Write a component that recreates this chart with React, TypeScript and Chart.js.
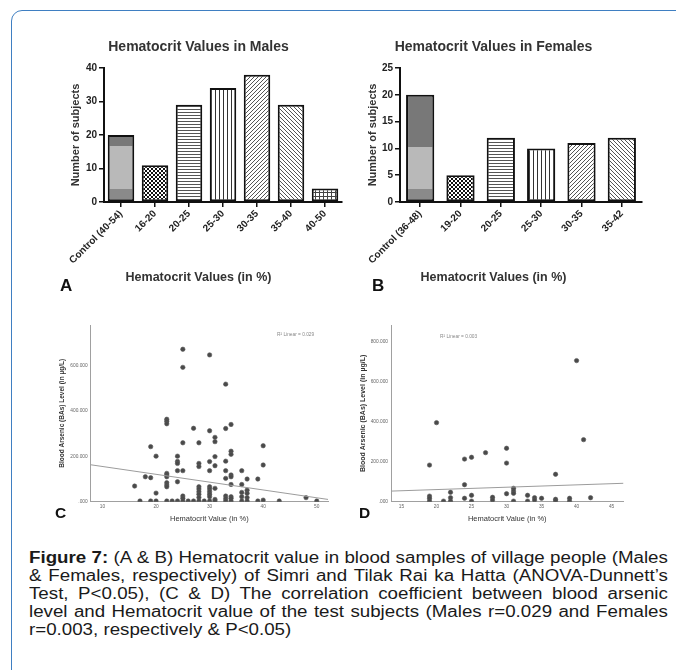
import React, { useEffect, useRef } from 'react';
import { Chart, registerables } from 'chart.js';

Chart.register(...registerables);

const FONT = '"Liberation Sans", Arial, Helvetica, sans-serif';

// ---------- Panel A: males ----------
const maleCategories = ['Control (40-54)', '16-20', '20-25', '25-30', '30-35', '35-40', '40-50'];
const maleCounts = [20, 11, 29, 34, 38, 29, 4];
const maleControlBands = [3.9, 16.6];

// ---------- Panel B: females ----------
const femaleCategories = ['Control (36-48)', '19-20', '20-25', '25-30', '30-35', '35-42'];
const femaleCounts = [20, 5, 12, 10, 11, 12];
const femaleControlBands = [2.4, 10.3];

// ---------- Panel C: males scatter ----------
const maleHct = [
  16, 17, 18, 19, 19, 19, 20, 20, 20,
  22, 22, 22, 22, 22, 22, 22, 22, 22, 22,
  23, 24, 24, 24, 24, 24, 24,
  25, 25, 25, 25, 25, 25, 25, 26, 27, 27,
  28, 28, 28, 28, 28, 28, 28, 28, 28, 29,
  30, 30, 30, 30, 30, 30, 30, 30, 30, 30,
  31, 31, 31, 31, 31, 31, 31,
  33, 33, 33, 33, 33, 33, 33, 33,
  34, 34, 34, 34, 34, 34, 34, 34, 34,
  36, 36, 36, 36, 36, 37, 37, 37, 37, 37,
  39, 39, 40, 40, 40, 43, 48, 50,
];
const maleBAs = [
  69, 3, 110, 106, 243, 3, 201, 38, 3,
  364, 355, 344, 125, 118, 110, 84, 74, 66, 3,
  3, 201, 178, 169, 137, 88, 3,
  673, 593, 260, 137, 25, 15, 3, 3, 324, 3,
  260, 169, 155, 66, 56, 44, 33, 19, 3, 3,
  648, 313, 177, 137, 66, 56, 44, 33, 22, 3,
  284, 265, 199, 159, 59, 10, 3,
  519, 323, 179, 137, 103, 25, 13, 3,
  341, 223, 209, 118, 110, 76, 22, 15, 3,
  137, 76, 41, 22, 3, 100, 51, 37, 18, 3,
  100, 3, 247, 162, 7, 3, 18, 3,
];
const maleFitHct = [7.8, 52.1];
const maleFitBAs = [163, 10];
const maleXTicks = [10, 20, 30, 40, 50];
const maleYTicks = [0, 200, 400, 600];

// ---------- Panel D: females scatter ----------
const femaleHct = [
  19, 19, 19, 19, 20, 21, 22, 22, 22,
  24, 24, 24, 25, 25, 25, 27, 28, 28,
  30, 30, 30, 31, 31, 31, 31, 33, 33,
  34, 34, 35, 37, 37, 37, 39, 39, 40, 41, 42,
];
const femaleBAs = [
  183, 28, 17, 3, 395, 3, 47, 20, 3,
  213, 85, 17, 222, 32, 3, 245, 22, 8,
  267, 193, 40, 67, 53, 42, 3, 32, 3,
  20, 8, 17, 137, 12, 3, 17, 3, 705, 310, 20,
];
const femaleFitHct = [13.5, 46.7];
const femaleFitBAs = [53, 92];
const femaleXTicks = [15, 20, 25, 30, 35, 40, 45];
const femaleYTicks = [0, 200, 400, 600, 800];

const captionLines = [
  '(A & B) Hematocrit value in blood samples of village people (Males',
  '& Females, respectively) of Simri and Tilak Rai ka Hatta (ANOVA-Dunnett\u2019s',
  'Test, P<0.05), (C & D) The correlation coefficient between blood arsenic',
  'level and Hematocrit value of the test subjects (Males r=0.029 and Females',
  'r=0.003, respectively & P<0.05)',
];

function makePattern(target: CanvasRenderingContext2D, kind: string): CanvasPattern {
  const c = document.createElement('canvas');
  const g = c.getContext('2d')!;
  const s = kind === 'hlines' ? 3 : 4;
  c.width = s;
  c.height = s;
  g.fillStyle = '#ffffff';
  g.fillRect(0, 0, s, s);
  if (kind === 'checker') {
    g.fillStyle = '#111';
    g.fillRect(0, 0, 2, 2);
    g.fillRect(2, 2, 2, 2);
  } else if (kind === 'hlines') {
    g.fillStyle = '#555';
    g.fillRect(0, 0, s, 1);
  } else if (kind === 'vlines') {
    g.fillStyle = '#333';
    g.fillRect(0, 0, 1, s);
  } else if (kind === 'slash') {
    g.fillStyle = '#555';
    for (let i = 0; i < s; i++) g.fillRect(i, s - 1 - i, 1, 1);
  } else if (kind === 'backslash') {
    g.fillStyle = '#555';
    for (let i = 0; i < s; i++) g.fillRect(i, i, 1, 1);
  } else if (kind === 'grid') {
    g.fillStyle = '#444';
    g.fillRect(0, 0, s, 1);
    g.fillRect(0, 0, 1, s);
  }
  return target.createPattern(c, 'repeat')!;
}

type BarOpts = {
  labels: string[];
  values: number[];
  title: string;
  yMax: number;
  yStep: number;
  yWidth: number;
  yTitlePad: number;
  xHeight: number;
  padRight: number;
  barPct: number;
  bands: number[];
  kinds: string[];
  ctx: CanvasRenderingContext2D;
};

function barConfig(o: BarOpts): any {
  const patterns = o.kinds.map((k) => makePattern(o.ctx, k));
  const bandColors = ['#8a8a8a', '#b9b9b9', '#787878'];
  return {
    type: 'bar',
    data: {
      labels: o.labels,
      datasets: [
        {
          data: o.values,
          backgroundColor: (c: any) => {
            const i = c.dataIndex;
            if (i === 0) {
              const chart = c.chart;
              if (!chart.chartArea || !chart.scales.y) return '#999';
              const y = chart.scales.y;
              const v = o.values[0];
              const y0 = y.getPixelForValue(0);
              const y1 = y.getPixelForValue(v);
              const gr = chart.ctx.createLinearGradient(0, y0, 0, y1);
              const f1 = o.bands[0] / v;
              const f2 = o.bands[1] / v;
              gr.addColorStop(0, bandColors[0]);
              gr.addColorStop(f1, bandColors[0]);
              gr.addColorStop(f1, bandColors[1]);
              gr.addColorStop(f2, bandColors[1]);
              gr.addColorStop(f2, bandColors[2]);
              gr.addColorStop(1, bandColors[2]);
              return gr;
            }
            return patterns[i];
          },
          borderColor: '#111',
          borderWidth: 2,
          borderSkipped: false,
          barPercentage: o.barPct,
          categoryPercentage: 1,
        },
      ],
    },
    options: {
      responsive: false,
      animation: false,
      devicePixelRatio: 1,
      layout: { padding: { top: 0, left: 0, bottom: 0, right: o.padRight } },
      plugins: {
        legend: { display: false },
        tooltip: { enabled: false },
        title: {
          display: true,
          text: o.title,
          color: '#333',
          font: { family: FONT, size: 14, weight: 'bold' },
          padding: { top: 10.6, bottom: 12.6 },
        },
        subtitle: {
          display: true,
          position: 'bottom',
          text: 'Hematocrit Values (in %)',
          color: '#333',
          font: { family: FONT, size: 12.5, weight: 'bold' },
          padding: { top: 2, bottom: 4.5 },
        },
      },
      scales: {
        x: {
          grid: { drawOnChartArea: false, offset: false, color: '#111', lineWidth: 1.5, tickLength: 5 },
          border: { color: '#111', width: 2 },
          ticks: {
            autoSkip: false,
            minRotation: 45,
            maxRotation: 45,
            padding: 1,
            color: '#222',
            font: { family: FONT, size: 10, weight: 'bold' },
          },
          afterFit: (s: any) => {
            s.height = o.xHeight;
          },
        },
        y: {
          min: 0,
          max: o.yMax,
          grid: { drawOnChartArea: false, color: '#111', lineWidth: 1.5, tickLength: 5 },
          border: { color: '#111', width: 2 },
          ticks: {
            stepSize: o.yStep,
            padding: 2,
            color: '#222',
            font: { family: FONT, size: 10, weight: 'bold' },
          },
          title: {
            display: true,
            text: 'Number of subjects',
            color: '#333',
            font: { family: FONT, size: 11, weight: 'bold' },
            padding: { top: o.yTitlePad, bottom: 0 },
          },
          afterFit: (s: any) => {
            s.width = o.yWidth;
          },
        },
      },
    },
  };
}

type ScatterOpts = {
  hct: number[];
  bas: number[];
  fitHct: number[];
  fitBAs: number[];
  xTicks: number[];
  yTicks: number[];
  xMin: number;
  xMax: number;
  yMax: number;
  yWidth: number;
  yTitlePad: number;
  yTitleSize: number;
  padRight: number;
};

function scatterConfig(o: ScatterOpts): any {
  const pts = o.hct.map((x, i) => ({ x, y: o.bas[i] }));
  const fit = o.fitHct.map((x, i) => ({ x, y: o.fitBAs[i] }));
  const tickFont = { family: FONT, size: 4.8 };
  return {
    type: 'scatter',
    data: {
      datasets: [
        {
          type: 'line',
          data: fit,
          borderColor: '#9c9c9c',
          borderWidth: 1,
          pointRadius: 0,
          fill: false,
          showLine: true,
        },
        {
          type: 'scatter',
          data: pts,
          pointRadius: 2.2,
          pointBackgroundColor: '#4a4a4a',
          pointBorderColor: '#5a5a5a',
          pointBorderWidth: 0.6,
        },
      ],
    },
    options: {
      responsive: false,
      animation: false,
      devicePixelRatio: 1,
      layout: { padding: { top: 10, left: 0, bottom: 0, right: o.padRight } },
      plugins: { legend: { display: false }, tooltip: { enabled: false } },
      scales: {
        x: {
          type: 'linear',
          min: o.xMin,
          max: o.xMax,
          grid: { display: false, drawTicks: false },
          border: { color: '#a0a0a0', width: 1 },
          ticks: { padding: 2, color: '#666', font: tickFont },
          afterBuildTicks: (s: any) => {
            s.ticks = o.xTicks.map((v) => ({ value: v }));
          },
          title: {
            display: true,
            text: 'Hematocrit Value (in %)',
            color: '#333',
            font: { family: FONT, size: 7.5 },
            padding: { top: 0, bottom: 6.5 },
          },
          afterFit: (s: any) => {
            s.height = 28.3;
          },
        },
        y: {
          type: 'linear',
          min: 0,
          max: o.yMax,
          grid: { display: false, drawTicks: false },
          border: { color: '#a0a0a0', width: 1 },
          ticks: {
            padding: 3,
            color: '#666',
            font: tickFont,
            callback: (v: any) => (Number(v) === 0 ? '.000' : Number(v).toFixed(3)),
          },
          afterBuildTicks: (s: any) => {
            s.ticks = o.yTicks.map((v) => ({ value: v }));
          },
          title: {
            display: true,
            text: 'Blood Arsenic (BAs) Level (in \u00b5g/L)',
            color: '#333',
            font: { family: FONT, size: o.yTitleSize, weight: 'bold' },
            padding: { top: o.yTitlePad, bottom: 0 },
          },
          afterFit: (s: any) => {
            s.width = o.yWidth;
          },
        },
      },
    },
  };
}

const abs = (left: number, top: number): React.CSSProperties => ({ position: 'absolute', left, top });

export default function App() {
  const aRef = useRef<HTMLCanvasElement>(null);
  const bRef = useRef<HTMLCanvasElement>(null);
  const cRef = useRef<HTMLCanvasElement>(null);
  const dRef = useRef<HTMLCanvasElement>(null);

  useEffect(() => {
    const kindsA = ['none', 'checker', 'hlines', 'vlines', 'slash', 'backslash', 'grid'];
    const kindsB = ['none', 'checker', 'hlines', 'vlines', 'slash', 'backslash'];
    const charts: Chart[] = [];
    charts.push(
      new Chart(
        aRef.current!,
        barConfig({
          labels: maleCategories,
          values: maleCounts,
          title: 'Hematocrit Values in Males',
          yMax: 40,
          yStep: 10,
          yWidth: 49,
          yTitlePad: 14.4,
          xHeight: 66.5,
          padRight: 3,
          barPct: 0.78,
          bands: maleControlBands,
          kinds: kindsA,
          ctx: aRef.current!.getContext('2d')!,
        })
      )
    );
    charts.push(
      new Chart(
        bRef.current!,
        barConfig({
          labels: femaleCategories,
          values: femaleCounts,
          title: 'Hematocrit Values in Females',
          yMax: 25,
          yStep: 5,
          yWidth: 55,
          yTitlePad: 21.4,
          xHeight: 66.5,
          padRight: 11,
          barPct: 0.7,
          bands: femaleControlBands,
          kinds: kindsB,
          ctx: bRef.current!.getContext('2d')!,
        })
      )
    );
    charts.push(
      new Chart(
        cRef.current!,
        scatterConfig({
          hct: maleHct,
          bas: maleBAs,
          fitHct: maleFitHct,
          fitBAs: maleFitBAs,
          xTicks: maleXTicks,
          yTicks: maleYTicks,
          xMin: 7.8,
          xMax: 52.1,
          yMax: 780,
          yWidth: 50.7,
          yTitlePad: 18.1,
          yTitleSize: 6.5,
          padRight: 12,
        })
      )
    );
    charts.push(
      new Chart(
        dRef.current!,
        scatterConfig({
          hct: femaleHct,
          bas: femaleBAs,
          fitHct: femaleFitHct,
          fitBAs: femaleFitBAs,
          xTicks: femaleXTicks,
          yTicks: femaleYTicks,
          xMin: 13.5,
          xMax: 46.7,
          yMax: 883,
          yWidth: 51,
          yTitlePad: 19.3,
          yTitleSize: 7,
          padRight: 16.5,
        })
      )
    );
    return () => charts.forEach((c) => c.destroy());
  }, []);

  const letter = (t: string, left: number, top: number, size: number) => (
    <div
      style={{
        ...abs(left, top),
        fontFamily: FONT,
        fontWeight: 'bold',
        fontSize: size,
        lineHeight: 1,
        color: '#111',
      }}
    >
      {t}
    </div>
  );

  const legend = (t: string, left: number, top: number) => (
    <div style={{ ...abs(left, top), fontFamily: FONT, fontSize: 4.8, lineHeight: 1, color: '#8a8a8a', whiteSpace: 'nowrap' }}>
      {t}
    </div>
  );

  return (
    <div
      style={{
        position: 'absolute',
        left: 0,
        top: 0,
        width: 676,
        height: 670,
        overflow: 'hidden',
        background: '#ffffff',
      }}
    >
      <div
        style={{
          ...abs(11, 10),
          width: 720,
          height: 720,
          border: '1.5px solid #3f7fc2',
          borderRadius: 11,
          boxSizing: 'border-box',
        }}
      />
      <canvas ref={aRef} width={290} height={262} style={abs(55, 28)} />
      <canvas ref={bRef} width={308} height={262} style={abs(345, 28)} />
      <canvas ref={cRef} width={300} height={215} style={abs(40, 315)} />
      <canvas ref={dRef} width={300} height={215} style={abs(340, 315)} />
      {letter('A', 60, 277, 17)}
      {letter('B', 372, 277, 17)}
      {letter('C', 55, 505, 15.5)}
      {letter('D', 359, 505, 15.5)}
      {legend('R\u00b2 Linear = 0.029', 277, 333)}
      {legend('R\u00b2 Linear = 0.003', 440, 335)}
      <div
        style={{
          ...abs(29, 549),
          width: 546,
          transform: 'scaleX(1.17)',
          transformOrigin: '0 0',
          fontFamily: FONT,
          fontSize: 16,
          lineHeight: '18.1px',
          color: '#1a1a1a',
        }}
      >
        {captionLines.map((line, i) => (
          <div
            key={i}
            style={{
              whiteSpace: 'nowrap',
              textAlign: i < captionLines.length - 1 ? 'justify' : 'left',
              textAlignLast: i < captionLines.length - 1 ? 'justify' : 'left',
            }}
          >
            {i === 0 ? (
              <>
                <b>Figure 7:</b> {line}
              </>
            ) : (
              line
            )}
          </div>
        ))}
      </div>
    </div>
  );
}
